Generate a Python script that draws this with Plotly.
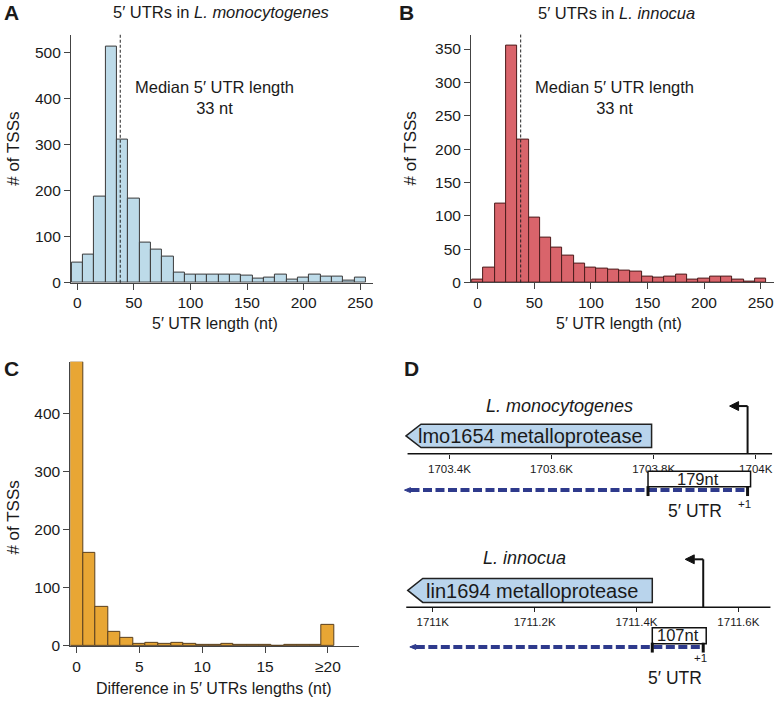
import plotly.graph_objects as go

W, H = 779, 709
FONT = "Liberation Sans, Arial, Helvetica, sans-serif"
TXT = "#1a1a1a"

# ---------------- data ----------------
utr_bins = list(range(0, 260, 10))            # 5' UTR length bin centres (nt)
mono_counts = [43, 62, 188, 513, 310, 182, 87, 73, 56, 22, 18, 18, 18, 17, 18, 15,
               9, 12, 18, 7, 12, 17, 14, 14, 5, 12]
inn_counts = [5, 23, 118, 355, 214, 98, 67, 53, 41, 29, 22, 21, 19, 18, 16, 9,
              8, 9, 12, 5, 6, 9, 9, 4, 2, 6]
median_marker = 38                           # dashed median line position (nt)
median_text = "Median 5′ UTR length<br>33 nt"

diff_bins = list(range(0, 21))               # difference in 5' UTR length (nt), last = >=20
diff_counts = [489, 161, 67, 24, 14, 4, 6, 3, 4.5, 3, 1, 2, 3.4, 2, 2, 2, 0.5, 1, 1, 2, 37]
diff_tickvals = [0, 5, 10, 15, 20]
diff_ticktext = ["0", "5", "10", "15", "≥20"]

mono_ticks = [1703400, 1703600, 1703800, 1704000]
mono_ticktext = ["1703.4K", "1703.6K", "1703.8K", "1704K"]
inn_ticks = [1711000, 1711200, 1711400, 1711600]
inn_ticktext = ["1711K", "1711.2K", "1711.4K", "1711.6K"]

strains = [
    dict(label="L. monocytogenes", gene="lmo1654 metalloprotease", utr_len="179nt",
         view=(1703302.2, 1704043.6), ticks=mono_ticks, ticktext=mono_ticktext,
         axis_span=(1703318, 1704032), gene_tip=1703315, gene_end=1703796,
         tss=1703984, utr_start=1703789, transcript_end=1703312,
         # vertical layout (pixels)
         label_px=(560, 411), gene_y=(429, 452.7), axis_y=459, box_y=(476.7, 492.3),
         dash_y=495.7, mark_y=(491.7, 501.7), plus1_y=510, utr_y=517, tss_top=410.7,
         ydom=(395, 530)),
    dict(label="L. innocua", gene="lin1694 metalloprotease", utr_len="107nt",
         view=(1710934.7, 1711677.8), ticks=inn_ticks, ticktext=inn_ticktext,
         axis_span=(1710948, 1711663), gene_tip=1710951, gene_end=1711431,
         tss=1711531, utr_start=1711431, transcript_end=1710955,
         label_px=(525, 564), gene_y=(585, 609.3), axis_y=614.3, box_y=(635, 651),
         dash_y=654.3, mark_y=(650, 660), plus1_y=666, utr_y=686, tss_top=565.7,
         ydom=(545, 700)),
]

# ---------------- helpers ----------------
def px(x):
    return x / W

def py(y):
    return 1 - y / H

fig = go.Figure()

# Panel A
fig.add_trace(go.Bar(x=utr_bins, y=mono_counts, width=10,
                     marker=dict(color="#bddbe9", line=dict(color="#3a3a3a", width=1)),
                     xaxis="x", yaxis="y", hoverinfo="skip", showlegend=False))
# Panel B
fig.add_trace(go.Bar(x=utr_bins, y=inn_counts, width=10,
                     marker=dict(color="#d9646b", line=dict(color="#4a1c1c", width=1)),
                     xaxis="x2", yaxis="y2", hoverinfo="skip", showlegend=False))
# Panel C
fig.add_trace(go.Bar(x=diff_bins, y=diff_counts, width=1,
                     marker=dict(color="#e8a634", line=dict(color="#5a4020", width=1)),
                     xaxis="x3", yaxis="y3", hoverinfo="skip", showlegend=False))

axis_common = dict(showgrid=False, zeroline=False, showline=True, linecolor="#444",
                   linewidth=1, ticks="outside", ticklen=6, tickcolor="#444",
                   tickfont=dict(size=15.5, color=TXT, family=FONT))

layout = dict(
    width=W, height=H, margin=dict(l=0, r=0, t=0, b=0),
    paper_bgcolor="white", plot_bgcolor="white", bargap=0,
    font=dict(family=FONT, color=TXT),
    xaxis=dict(domain=[px(71), px(373)], range=[-5.6, 260.9], anchor="y",
               tickvals=[0, 50, 100, 150, 200, 250], **axis_common),
    yaxis=dict(domain=[py(286), py(35)], range=[0, 538.6], anchor="x",
               tickvals=[0, 100, 200, 300, 400, 500], **axis_common),
    xaxis2=dict(domain=[px(471.7), px(775)], range=[-5.8, 261.8], anchor="y2",
                tickvals=[0, 50, 100, 150, 200, 250], **axis_common),
    yaxis2=dict(domain=[py(285.7), py(35)], range=[0, 371.6], anchor="x2",
                tickvals=[0, 50, 100, 150, 200, 250, 300, 350], **axis_common),
    xaxis3=dict(domain=[px(70.4), px(359)], range=[-0.5, 22.44], anchor="y3",
                tickvals=diff_tickvals, ticktext=diff_ticktext, **axis_common),
    yaxis3=dict(domain=[py(653.3), py(366)], range=[0, 489], anchor="x3",
                tickvals=[0, 100, 200, 300, 400], **axis_common),
)

shapes = []
annotations = []

def ann(text, x, y, size, xref="paper", **kw):
    d = dict(text=text, x=x, y=y, xref=xref, yref="paper", showarrow=False,
             xanchor="center", yanchor="middle", font=dict(size=size, color=TXT, family=FONT))
    d.update(kw)
    annotations.append(d)

# median lines
for xr, yr in (("x", "y"), ("x2", "y2")):
    shapes.append(dict(type="line", xref=xr, yref=yr + " domain", x0=median_marker, x1=median_marker,
                       y0=0, y1=1, line=dict(color="#222", width=1, dash="3px,2px"), layer="above"))

# panel texts
ann("<b>A</b>", px(11.5), py(13), 21)
ann("<b>B</b>", px(407.5), py(13), 21)
ann("<b>C</b>", px(11.5), py(373), 21)
ann("<b>D</b>", px(411.7), py(373), 21)
ann("5′ UTRs in <i>L. monocytogenes</i>", px(221.7), py(12), 16.5)
ann("5′ UTRs in <i>L. innocua</i>", px(617.7), py(13.3), 16.5)
ann(median_text, px(215), py(99), 16.5)
ann(median_text, px(615), py(99), 16.5)
ann("# of TSSs", px(13.5), py(150), 17, textangle=-90)
ann("# of TSSs", px(410.7), py(150), 17, textangle=-90)
ann("# of TSSs", px(13.5), py(523), 17, textangle=-90)
ann("5′ UTR length (nt)", px(215), py(327), 16)
ann("5′ UTR length (nt)", px(620), py(327), 16)
ann("Difference in 5′ UTRs lengths (nt)", px(214), py(696.7), 16)

# ---------------- panel D ----------------
D_LEFT = 400
for i, s in enumerate(strains):
    n = i + 4
    xa, ya = f"x{n}", f"y{n}"
    k = (s["view"][1] - s["view"][0]) / (W - D_LEFT)   # nt per pixel
    layout[f"xaxis{n}"] = dict(domain=[px(D_LEFT), 1], range=list(s["view"]), anchor="free",
                               position=py(s["axis_y"]), showline=False, showgrid=False,
                               zeroline=False, ticks="outside", ticklen=4, tickwidth=1,
                               tickcolor="#222", tickvals=s["ticks"], ticktext=s["ticktext"],
                               tickfont=dict(size=11.5, color=TXT, family=FONT))
    layout[f"yaxis{n}"] = dict(domain=[py(s["ydom"][1]), py(s["ydom"][0])], range=[0, 1],
                               visible=False, anchor=xa)
    fig.add_trace(go.Scatter(x=[s["tss"]], y=[0.5], mode="markers", marker=dict(size=1, opacity=0),
                             xaxis=xa, yaxis=ya, hoverinfo="skip", showlegend=False))

    def L(x0, y0, x1, y1, color="#111", width=1.5, dash=None):
        line = dict(color=color, width=width)
        if dash:
            line["dash"] = dash
        shapes.append(dict(type="line", xref=xa, yref="paper", x0=x0, x1=x1,
                           y0=py(y0), y1=py(y1), line=line, layer="above"))

    def P(points, fill, color="#111", width=1):
        path = "M " + " L ".join(f"{x},{py(y)}" for x, y in points) + " Z"
        shapes.append(dict(type="path", xref=xa, yref="paper", path=path, fillcolor=fill,
                           line=dict(color=color, width=width), layer="above"))

    # genome axis line
    L(s["axis_span"][0], s["axis_y"], s["axis_span"][1], s["axis_y"], width=1.5)
    # gene arrow
    gt, gb = s["gene_y"]
    gm = (gt + gb) / 2
    base = s["gene_tip"] + 15 * k
    P([(s["gene_tip"], gm), (base, gt), (s["gene_end"], gt), (s["gene_end"], gb), (base, gb)],
      "#b9d4ec", color="#222", width=1.5)
    ann(s["gene"], (s["gene_tip"] + s["gene_end"]) / 2 + 2 * k, py(gm + 0.5), 20, xref=xa)
    # strain label
    ann(f"<i>{s['label']}</i>", px(s["label_px"][0]), py(s["label_px"][1]), 18)
    # TSS bent arrow
    head_tip = s["tss"] - 18 * k
    head_base = s["tss"] - 9 * k
    L(s["tss"], s["axis_y"], s["tss"], s["tss_top"], width=2)
    L(s["tss"], s["tss_top"], head_base, s["tss_top"], width=2)
    P([(head_tip, s["tss_top"]), (head_base, s["tss_top"] - 4.5), (head_base, s["tss_top"] + 4.5)],
      "#111", width=1)
    # transcript dashed line with small arrowhead
    d_base = s["transcript_end"] + 6 * k
    L(d_base, s["dash_y"], s["tss"], s["dash_y"], color="#2e3a8c", width=4, dash="9px,3.5px")
    P([(s["transcript_end"], s["dash_y"]), (d_base, s["dash_y"] - 2.5), (d_base, s["dash_y"] + 2.5)],
      "#2e3a8c", color="#2e3a8c", width=1)
    # UTR box
    bt, bb = s["box_y"]
    shapes.append(dict(type="rect", xref=xa, yref="paper", x0=s["utr_start"], x1=s["tss"] + 3 * k,
                       y0=py(bb), y1=py(bt), fillcolor="white",
                       line=dict(color="#111", width=1.5), layer="above"))
    ann(s["utr_len"], (s["utr_start"] + s["tss"]) / 2, py((bt + bb) / 2 - 0.5), 16.5, xref=xa)
    # UTR boundary marks
    L(s["utr_start"], s["mark_y"][0], s["utr_start"], s["mark_y"][1], width=3)
    L(s["tss"], s["mark_y"][0], s["tss"], s["mark_y"][1], width=3)
    # +1 and 5' UTR labels
    ann("+1", s["tss"] - 3 * k, py(s["plus1_y"]), 11.5, xref=xa)
    ann("5′ UTR", (s["utr_start"] + s["tss"]) / 2 - 3 * k, py(s["utr_y"]), 17.5, xref=xa)

layout["shapes"] = shapes
layout["annotations"] = annotations
fig.update_layout(**layout)
fig.write_html("out.html", config={"displayModeBar": False},
               post_script="document.body.style.margin='0px';document.body.style.overflow='hidden';")
